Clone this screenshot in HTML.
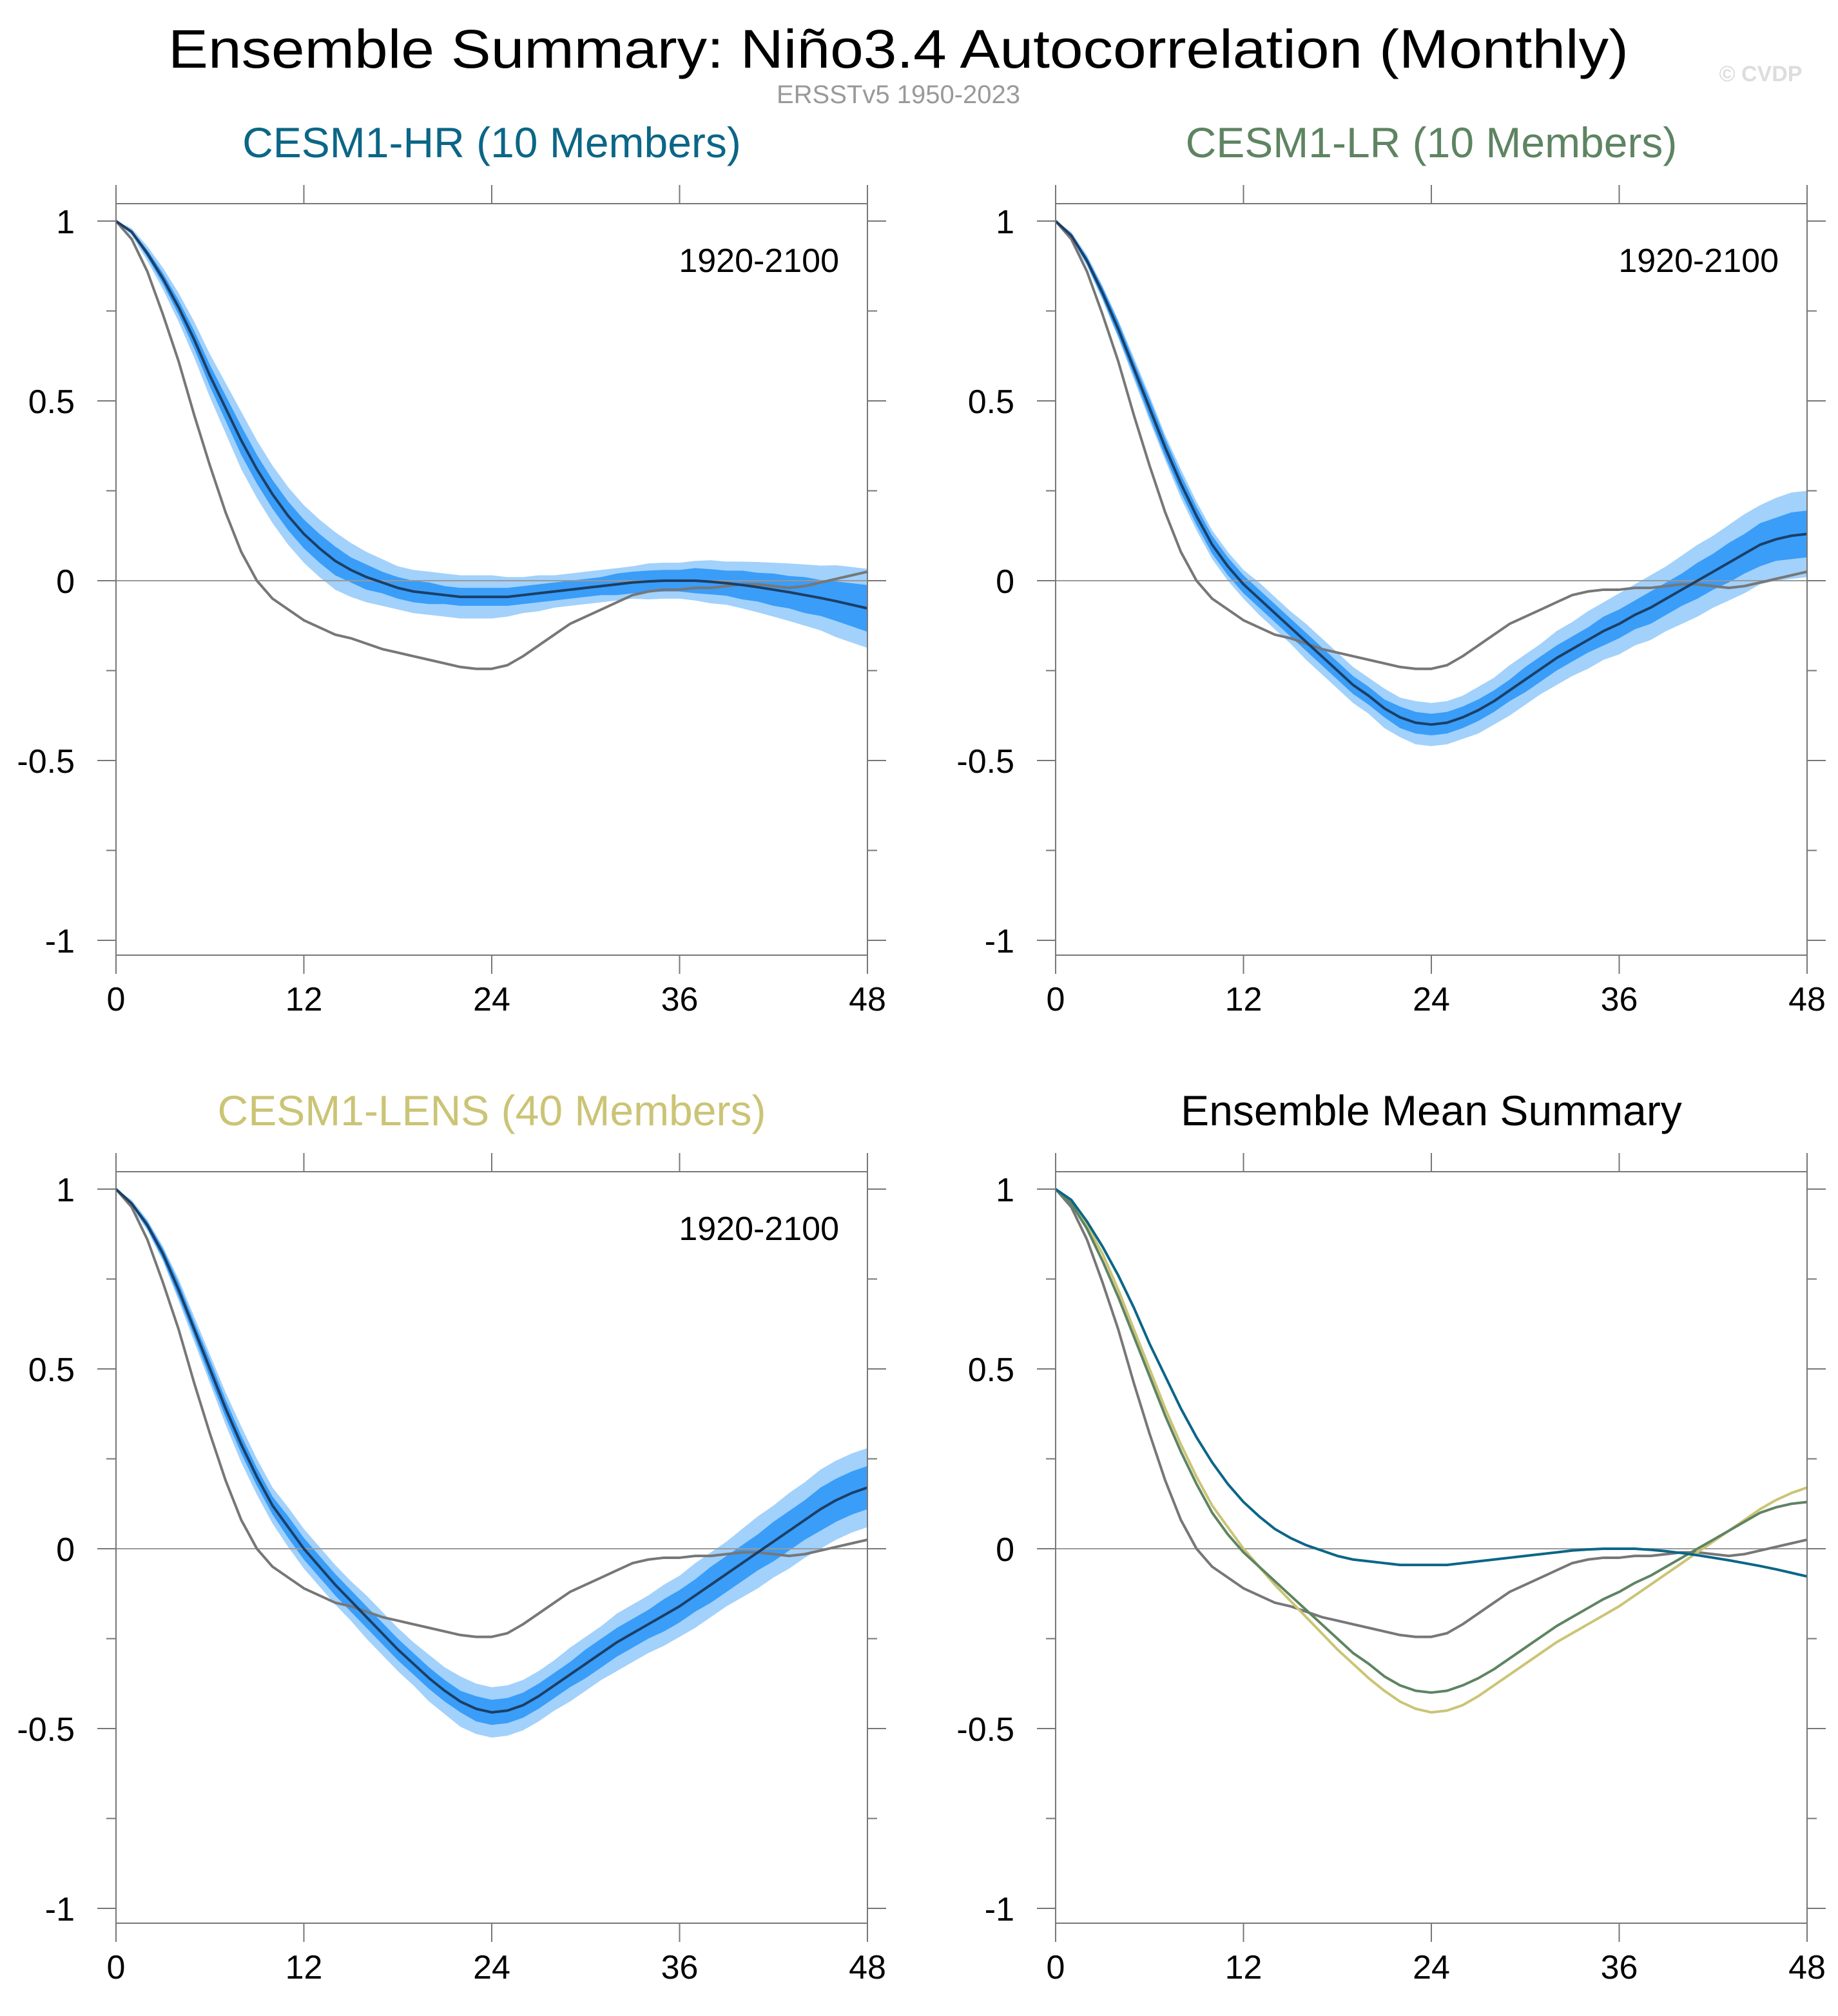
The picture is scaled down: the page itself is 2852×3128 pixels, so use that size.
<!DOCTYPE html>
<html><head><meta charset="utf-8"><style>
html,body{margin:0;padding:0;background:#fff;}
svg{display:block;font-family:"Liberation Sans",Arial,sans-serif;}
</style></head><body>
<svg id="chart" width="2852" height="3128" viewBox="0 0 2852 3128" xmlns="http://www.w3.org/2000/svg">
<text x="1394" y="105" font-size="84" text-anchor="middle" textLength="2266" lengthAdjust="spacingAndGlyphs">Ensemble Summary: Niño3.4 Autocorrelation (Monthly)</text>
<text x="1394" y="160" font-size="40" fill="#999" text-anchor="middle">ERSSTv5 1950-2023</text>
<text x="2732" y="126" font-size="34" fill="#ddd" font-weight="bold" text-anchor="middle">© CVDP</text>
</svg>
<script>
const lags = Array.from({length:49},(_,i)=>i);
const obs = [1.0,0.95,0.86,0.74,0.61,0.46,0.32,0.19,0.08,0.0,-0.05,-0.08,-0.11,-0.13,-0.15,-0.16,-0.175,-0.19,-0.2,-0.21,-0.22,-0.23,-0.24,-0.245,-0.245,-0.235,-0.21,-0.18,-0.15,-0.12,-0.1,-0.08,-0.06,-0.04,-0.03,-0.025,-0.025,-0.02,-0.02,-0.015,-0.01,-0.01,-0.015,-0.02,-0.015,-0.005,0.005,0.015,0.025];
const hrMean = [1,0.97,0.91,0.84,0.76,0.67,0.57,0.48,0.39,0.31,0.24,0.18,0.13,0.09,0.055,0.03,0.01,-0.005,-0.02,-0.03,-0.035,-0.04,-0.045,-0.045,-0.045,-0.045,-0.04,-0.035,-0.03,-0.025,-0.02,-0.015,-0.01,-0.005,-0.002,0,0,0,-0.003,-0.007,-0.012,-0.018,-0.025,-0.032,-0.04,-0.048,-0.057,-0.067,-0.077];
const hrInner = [0,0.005,0.01,0.015,0.02,0.025,0.03,0.035,0.04,0.04,0.04,0.04,0.04,0.04,0.04,0.035,0.035,0.03,0.03,0.03,0.03,0.025,0.025,0.025,0.025,0.025,0.025,0.025,0.025,0.025,0.025,0.025,0.03,0.03,0.03,0.03,0.03,0.035,0.035,0.035,0.04,0.04,0.045,0.045,0.05,0.05,0.055,0.06,0.065];
const hrOuter = [0,0.01,0.02,0.03,0.04,0.05,0.06,0.07,0.08,0.08,0.08,0.08,0.08,0.08,0.08,0.075,0.07,0.065,0.06,0.06,0.06,0.06,0.06,0.06,0.06,0.055,0.05,0.05,0.045,0.045,0.045,0.045,0.045,0.045,0.05,0.05,0.05,0.055,0.06,0.06,0.065,0.07,0.075,0.08,0.085,0.09,0.1,0.105,0.11];
const lrMean = [1,0.96,0.89,0.8,0.7,0.59,0.48,0.37,0.27,0.18,0.1,0.04,-0.01,-0.05,-0.09,-0.13,-0.17,-0.21,-0.25,-0.29,-0.32,-0.355,-0.38,-0.395,-0.4,-0.395,-0.38,-0.36,-0.335,-0.305,-0.275,-0.245,-0.215,-0.19,-0.165,-0.14,-0.12,-0.095,-0.075,-0.05,-0.025,0,0.025,0.05,0.075,0.1,0.115,0.125,0.13];
const lrInner = [0,0.005,0.01,0.015,0.02,0.02,0.025,0.025,0.025,0.025,0.025,0.025,0.025,0.025,0.025,0.025,0.025,0.025,0.025,0.025,0.025,0.025,0.03,0.03,0.03,0.03,0.03,0.03,0.03,0.03,0.035,0.035,0.035,0.035,0.035,0.04,0.04,0.04,0.045,0.045,0.045,0.05,0.05,0.055,0.055,0.06,0.06,0.065,0.065];
const lrOuter = [0,0.01,0.015,0.02,0.025,0.03,0.035,0.035,0.04,0.04,0.04,0.04,0.04,0.045,0.045,0.045,0.05,0.05,0.05,0.05,0.05,0.055,0.055,0.06,0.06,0.06,0.06,0.065,0.065,0.07,0.07,0.07,0.075,0.075,0.08,0.08,0.085,0.085,0.09,0.09,0.095,0.1,0.1,0.105,0.11,0.11,0.115,0.12,0.12];
const lensMean = [1,0.96,0.9,0.82,0.72,0.61,0.5,0.39,0.29,0.2,0.12,0.06,0,-0.05,-0.1,-0.145,-0.19,-0.235,-0.28,-0.32,-0.36,-0.395,-0.425,-0.445,-0.455,-0.45,-0.435,-0.41,-0.38,-0.35,-0.32,-0.29,-0.26,-0.235,-0.21,-0.185,-0.16,-0.13,-0.1,-0.07,-0.04,-0.01,0.02,0.05,0.08,0.11,0.135,0.155,0.17];
const lensInner = [0,0.005,0.01,0.015,0.02,0.02,0.025,0.025,0.025,0.025,0.025,0.03,0.03,0.03,0.03,0.03,0.03,0.03,0.03,0.03,0.03,0.03,0.03,0.035,0.035,0.035,0.035,0.035,0.035,0.035,0.04,0.04,0.04,0.04,0.04,0.045,0.045,0.045,0.05,0.05,0.05,0.05,0.055,0.055,0.055,0.06,0.06,0.06,0.06];
const lensOuter = [0,0.01,0.015,0.02,0.03,0.035,0.04,0.045,0.05,0.05,0.05,0.055,0.055,0.055,0.055,0.055,0.06,0.06,0.06,0.06,0.065,0.065,0.07,0.07,0.07,0.07,0.07,0.07,0.07,0.075,0.075,0.075,0.08,0.08,0.08,0.085,0.085,0.09,0.09,0.09,0.095,0.1,0.1,0.105,0.105,0.11,0.11,0.11,0.11];
const xTicks = [0,12,24,36,48];
const yTicks = [1,0.5,0,-0.5,-1];
const yTickLabels = ["1","0.5","0","-0.5","-1"];
const yMinor = [0.75,0.25,-0.25,-0.75];

const NS="http://www.w3.org/2000/svg";
const svg=document.getElementById('chart');
function el(tag,attrs,parent){const e=document.createElementNS(NS,tag);for(const k in attrs)e.setAttribute(k,attrs[k]);(parent||svg).appendChild(e);return e;}
const W=1166, H=1166;

function panel(x0,y0,name,title,titleColor,series,bands,period){
  const g=el('g',{});
  
  
  const xs=v=>x0+v/48*W;
  const ys=v=>y0+27+(1-v)*558;
  const t=el('text',{x:x0+W/2,y:y0-72,'font-size':66,fill:titleColor,'text-anchor':'middle'},g);
  
  
  t.textContent=title;
  bands.forEach(b=>{
    const [mean,wid,col]=b;
    let d='M'+lags.map(i=>xs(lags[i])+','+ys(mean[i]+wid[i])).join('L');
    d+='L'+lags.slice().reverse().map(i=>xs(lags[i])+','+ys(mean[i]-wid[i])).join('L')+'Z';
    const p=el('path',{d:d,fill:col,stroke:'none'},g);
    
    
  });
  const z=el('line',{x1:x0,x2:x0+W,y1:ys(0),y2:ys(0),stroke:'#999','stroke-width':2},g);
  
  
  series.forEach(s=>{
    const [vals,col,nm,sw]=s;
    const p=el('path',{d:'M'+lags.map(i=>xs(lags[i])+','+ys(vals[i])).join('L'),fill:'none',stroke:col,'stroke-width':sw,'stroke-linejoin':'round'},g);
    
    
  });
  const f=el('rect',{x:x0,y:y0,width:W,height:H,fill:'none',stroke:'#777','stroke-width':2},g);
  
  
  xTicks.forEach(v=>{
    el('line',{x1:xs(v),x2:xs(v),y1:y0+H,y2:y0+H+29,stroke:'#777','stroke-width':2},g);
    el('line',{x1:xs(v),x2:xs(v),y1:y0,y2:y0-29,stroke:'#777','stroke-width':2},g);
    const tx=el('text',{x:xs(v),y:y0+H+86,'font-size':52,'text-anchor':'middle'},g);
    
    
    tx.textContent=v;
  });
  yTicks.forEach((v,i)=>{
    el('line',{x1:x0-29,x2:x0,y1:ys(v),y2:ys(v),stroke:'#777','stroke-width':2},g);
    el('line',{x1:x0+W,x2:x0+W+29,y1:ys(v),y2:ys(v),stroke:'#777','stroke-width':2},g);
    const ty=el('text',{x:x0-64,y:ys(v)+19,'font-size':52,'text-anchor':'end'},g);
    
    
    ty.textContent=yTickLabels[i];
  });
  yMinor.forEach(v=>{
    el('line',{x1:x0-15,x2:x0,y1:ys(v),y2:ys(v),stroke:'#777','stroke-width':2},g);
    el('line',{x1:x0+W,x2:x0+W+15,y1:ys(v),y2:ys(v),stroke:'#777','stroke-width':2},g);
  });
  if(period){
    const pt=el('text',{x:x0+W-44,y:y0+106,'font-size':52,'text-anchor':'end'},g);
    
    
    pt.textContent=period;
  }
}
const LIGHT='#a2d1fb', DARK='#3a9df8', MEANC='#1b3f66', OBSC='#777';
panel(180,316,'panel-cesm1-hr','CESM1-HR (10 Members)','#0b6687',
  [[obs,OBSC,'obs-line',4],[hrMean,MEANC,'ensemble-mean-line',4]],
  [[hrMean,hrOuter,LIGHT],[hrMean,hrInner,DARK]],'1920-2100');
panel(1638,316,'panel-cesm1-lr','CESM1-LR (10 Members)','#5e8462',
  [[obs,OBSC,'obs-line',4],[lrMean,MEANC,'ensemble-mean-line',4]],
  [[lrMean,lrOuter,LIGHT],[lrMean,lrInner,DARK]],'1920-2100');
panel(180,1818,'panel-cesm1-lens','CESM1-LENS (40 Members)','#cbc475',
  [[obs,OBSC,'obs-line',4],[lensMean,MEANC,'ensemble-mean-line',4]],
  [[lensMean,lensOuter,LIGHT],[lensMean,lensInner,DARK]],'1920-2100');
panel(1638,1818,'panel-ensemble-mean-summary','Ensemble Mean Summary','#000',
  [[obs,OBSC,'obs-line',4],[lensMean,'#cbc475','lens-mean-line',4],[lrMean,'#5e8462','lr-mean-line',4],[hrMean,'#0b6687','hr-mean-line',4]],
  [],null);
</script>
</body></html>
